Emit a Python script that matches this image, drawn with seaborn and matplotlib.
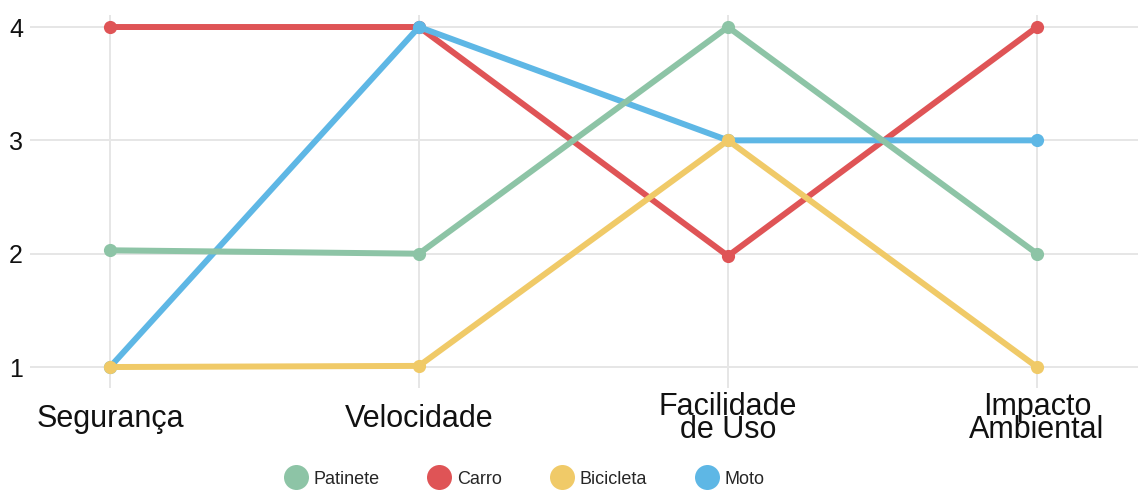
import matplotlib
matplotlib.use("Agg")
import matplotlib.pyplot as plt
from matplotlib.lines import Line2D
import seaborn as sns
import pandas as pd

categories = ["Segurança", "Velocidade", "Facilidade\nde Uso", "Impacto\nAmbiental"]
series_names = ["Patinete", "Carro", "Bicicleta", "Moto"]
patinete = [2.03, 2.0, 4.0, 2.0]
carro = [4.0, 4.0, 1.98, 4.0]
bicicleta = [1.0, 1.01, 3.0, 1.0]
moto = [1.0, 4.0, 3.0, 3.0]
colors = ["#8DC4A6", "#DF5456", "#F0CA68", "#5EB7E5"]
y_ticks = [1, 2, 3, 4]

values = {"Patinete": patinete, "Carro": carro, "Bicicleta": bicicleta, "Moto": moto}
rows = []
for name in series_names:
    for cat, v in zip(categories, values[name]):
        rows.append({"Critério": cat, "Valor": v, "Veículo": name})
df = pd.DataFrame(rows)

sns.set_theme(style="white")
plt.rcParams["font.family"] = ["Liberation Sans", "DejaVu Sans"]

fig = plt.figure(figsize=(11.38, 4.93), dpi=100)
ax = fig.add_axes([30 / 1138, 1 - 388 / 493, 1 - 30 / 1138, (388 - 15) / 493])

palette = dict(zip(series_names, colors))
draw_order = ["Carro", "Moto", "Patinete", "Bicicleta"]
for z, name in enumerate(draw_order):
    sub = df[df["Veículo"] == name]
    sns.lineplot(data=sub, x="Critério", y="Valor", color=palette[name],
                 linewidth=4.3, marker="o", markersize=9.5, markeredgewidth=0,
                 ax=ax, zorder=3 + z, legend=False, sort=False)

ax.set_xlim(-0.259, 3.327)
ax.set_ylim(0.815, 4.106)
ax.set_yticks(y_ticks)
ax.set_yticklabels([str(t) for t in y_ticks])
ax.set_xlabel("")
ax.set_ylabel("")
ax.grid(True, color="#e6e6e6", linewidth=1.4)
ax.set_axisbelow(True)
for s in ax.spines.values():
    s.set_visible(False)
ax.tick_params(axis="both", length=0)
ax.tick_params(axis="y", pad=5, labelsize=18, labelcolor="#111111")
ax.tick_params(axis="x", pad=22, labelsize=22, labelcolor="#111111")
for lab in ax.get_xticklabels():
    lab.set_verticalalignment("center")
    lab.set_linespacing(0.72)

handles = [Line2D([], [], linestyle="none", marker="o", markersize=18,
                  markerfacecolor=c, markeredgewidth=0) for c in colors]
fig.legend(handles, series_names, loc="center", bbox_to_anchor=(524 / 1138, 14 / 493),
           ncol=4, frameon=False, fontsize=13, handlelength=1.4,
           handletextpad=0.3, columnspacing=2.6, borderpad=0)

fig.savefig("out.png", dpi=100)
